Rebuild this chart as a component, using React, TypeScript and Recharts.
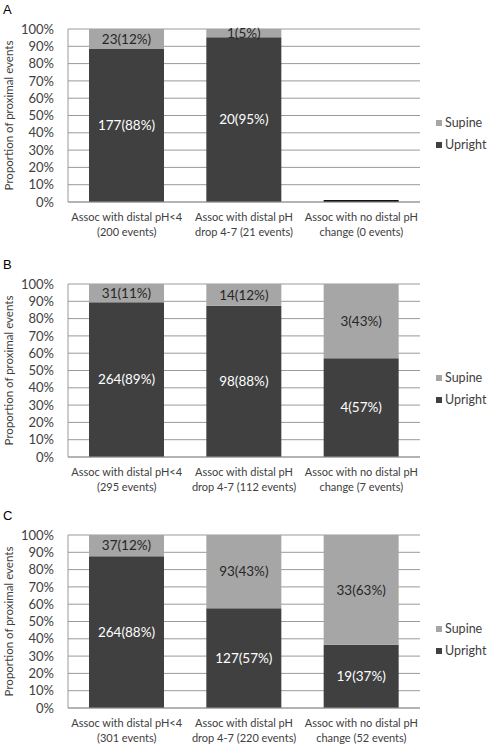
import React from "react";
import {
  BarChart,
  Bar,
  XAxis,
  YAxis,
  CartesianGrid,
  Legend,
  LabelList,
  Cell,
} from "recharts";

const FONT = "Lato, 'Open Sans', sans-serif";
const SUPINE = "#a6a6a6";
const UPRIGHT = "#404040";
const TEXT = "#404040";

const labelLine1 = ["Assoc with distal pH<4", "Assoc with distal pH", "Assoc with no distal pH"];
const labelLine2Prefix = ["", "drop 4-7 ", "change "];

// event counts per category
const uprightA = [177, 20, 0];
const supineA = [23, 1, 0];
const uprightB = [264, 98, 4];
const supineB = [31, 14, 3];
const uprightC = [264, 127, 19];
const supineC = [37, 93, 33];

// percentages as printed on the bars
const uprightPctA = [88, 95, 0];
const supinePctA = [12, 5, 0];
const uprightPctB = [89, 88, 57];
const supinePctB = [11, 12, 43];
const uprightPctC = [88, 57, 37];
const supinePctC = [12, 43, 63];

const yTicks = [0, 10, 20, 30, 40, 50, 60, 70, 80, 90, 100];

function buildRows(upright: number[], supine: number[], uPct: number[], sPct: number[]) {
  return upright.map((u, i) => {
    const s = supine[i];
    const total = u + s;
    return {
      name: labelLine1[i],
      line2: `${labelLine2Prefix[i]}(${total} events)`,
      total,
      upright: total ? (u / total) * 100 : 0,
      supine: total ? (s / total) * 100 : 0,
      uprightLabel: total ? `${u}(${uPct[i]}%)` : "",
      supineLabel: total ? `${s}(${sPct[i]}%)` : "",
    };
  });
}

const XTick = (props: any) => {
  const { x, y, payload, index, rows } = props;
  const row = rows[index];
  return (
    <text x={x} y={y} textAnchor="middle" fill={TEXT} fontSize={11} fontFamily={FONT}>
      <tspan x={x} dy={11}>{payload.value}</tspan>
      <tspan x={x} dy={15}>{row ? row.line2 : ""}</tspan>
    </text>
  );
};

const LegendBox = () => (
  <div style={{ fontFamily: FONT, fontSize: 12.5, color: TEXT }}>
    {[
      { name: "Supine", color: SUPINE },
      { name: "Upright", color: UPRIGHT },
    ].map((it) => (
      <div key={it.name} style={{ display: "flex", alignItems: "center", height: 22, lineHeight: "22px" }}>
        <span style={{ width: 6, height: 6, background: it.color, marginRight: 3, display: "inline-block" }} />
        {it.name}
      </div>
    ))}
  </div>
);

function Panel({
  letter,
  upright,
  supine,
  uPct,
  sPct,
  top,
}: {
  letter: string;
  upright: number[];
  supine: number[];
  uPct: number[];
  sPct: number[];
  top: number;
}) {
  const rows = buildRows(upright, supine, uPct, sPct);
  return (
    <div style={{ position: "absolute", left: 0, top, width: 487, height: 250 }}>
      <div style={{ position: "absolute", left: 3, top: 2, fontFamily: "Arial, 'Liberation Sans'", fontSize: 13 }}>{letter}</div>
      <BarChart
        width={487}
        height={250}
        data={rows}
        margin={{ top: 29, right: 12, left: 0, bottom: 8 }}
        barSize={75}
      >
        <CartesianGrid vertical={false} stroke="#9a9a9a" />
        <XAxis
          dataKey="name"
          axisLine={{ stroke: "#9a9a9a" }}
          tickLine={false}
          height={40}
          interval={0}
          tick={<XTick rows={rows} />}
        />
        <YAxis
          width={68}
          domain={[0, 100]}
          ticks={yTicks}
          interval={0}
          tickFormatter={(v) => `${v}%`}
          axisLine={{ stroke: "#9a9a9a" }}
          tickLine={false}
          tickSize={0}
          tickMargin={14}
          tick={{ fill: TEXT, fontSize: 13, fontFamily: FONT }}
          label={{
            value: "Proportion of proximal events",
            angle: -90,
            position: "insideLeft",
            offset: 9,
            style: { textAnchor: "middle", fill: TEXT, fontSize: 11.5, fontFamily: FONT },
          }}
        />
        <Legend
          layout="vertical"
          align="right"
          verticalAlign="middle"
          width={55}
          wrapperStyle={{ top: 112, left: 436 }}
          content={<LegendBox />}
        />
        <Bar dataKey="upright" stackId="a" fill={UPRIGHT} isAnimationActive={false} minPointSize={2}>
          {rows.map((r, i) => (
            <Cell key={i} fill={r.total ? UPRIGHT : "#111"} />
          ))}
          <LabelList dataKey="uprightLabel" position="center" fill="#ffffff" fontSize={13.5} fontFamily={FONT} />
        </Bar>
        <Bar dataKey="supine" stackId="a" fill={SUPINE} isAnimationActive={false}>
          <LabelList dataKey="supineLabel" position="center" fill="#262626" fontSize={13.5} fontFamily={FONT} />
        </Bar>
      </BarChart>
    </div>
  );
}

export default function App() {
  return (
    <div style={{ position: "absolute", left: 0, top: 0, width: 487, height: 750, background: "#fff" }}>
      <Panel letter="A" upright={uprightA} supine={supineA} uPct={uprightPctA} sPct={supinePctA} top={0} />
      <Panel letter="B" upright={uprightB} supine={supineB} uPct={uprightPctB} sPct={supinePctB} top={255} />
      <Panel letter="C" upright={uprightC} supine={supineC} uPct={uprightPctC} sPct={supinePctC} top={506} />
    </div>
  );
}
